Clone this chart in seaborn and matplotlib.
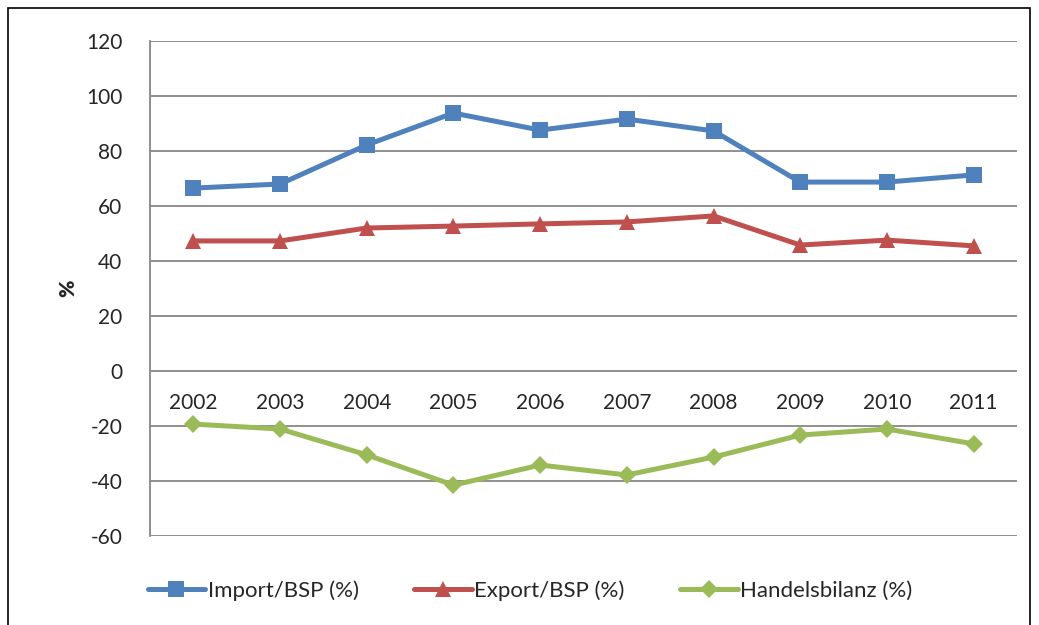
import matplotlib
matplotlib.use("Agg")
import matplotlib.pyplot as plt
import seaborn as sns
import pandas as pd
from matplotlib.patches import Rectangle

years = ["2002", "2003", "2004", "2005", "2006", "2007", "2008", "2009", "2010", "2011"]
import_bsp = [66.5, 68.0, 82.2, 93.8, 87.6, 91.6, 87.3, 68.7, 68.7, 71.3]
export_bsp = [47.3, 47.3, 52.0, 52.7, 53.5, 54.2, 56.4, 45.8, 47.6, 45.5]
handelsbilanz = [-19.3, -21.1, -30.5, -41.5, -34.2, -37.8, -31.3, -23.3, -21.1, -26.5]

series_names = ["Import/BSP (%)", "Export/BSP (%)", "Handelsbilanz (%)"]
colors = ["#4F81BD", "#C0504D", "#9BBB59"]
markers = ["s", "^", "D"]
msizes = [11, 11, 9]

# long-form table for seaborn
rows = []
for name, vals in zip(series_names, [import_bsp, export_bsp, handelsbilanz]):
    for i, v in enumerate(vals):
        rows.append({"pos": i, "value": v, "series": name})
df = pd.DataFrame(rows)

sns.set_style("white")
plt.rcParams['font.family'] = ['Lato', 'DejaVu Sans']
plt.rcParams['axes.unicode_minus'] = False

fig = plt.figure(figsize=(10.39, 6.25), dpi=100)
ax = fig.add_axes([0.1444, 0.1424, 0.8344, 0.792])

for name, c, m, ms in zip(series_names, colors, markers, msizes):
    sns.lineplot(data=df[df["series"] == name], x="pos", y="value", ax=ax,
                 color=c, marker=m, markersize=ms, linewidth=3.6,
                 markeredgewidth=0, label=name)

ax.set_xlim(-0.5, len(years) - 0.5)
ax.set_ylim(-60, 120)
ax.set_yticks(range(-60, 121, 20))
ax.yaxis.grid(True, color="#878787", linewidth=1.3)
ax.set_axisbelow(True)

# category axis crosses at zero
ax.spines['bottom'].set_position(('data', 0))
ax.spines['bottom'].set_visible(False)
ax.set_xticks(range(len(years)))
ax.set_xticklabels(years)
ax.tick_params(axis='x', length=0, pad=16, labelsize=15)
ax.tick_params(axis='y', length=0, pad=20, labelsize=15)
for s in ['top', 'right']:
    ax.spines[s].set_visible(False)
ax.spines['left'].set_color("#878787")
ax.spines['left'].set_linewidth(1.3)

ax.set_xlabel("")
ax.set_ylabel("%", fontsize=15, fontweight="heavy", labelpad=6)

ax.get_legend().remove()
handles, labels = ax.get_legend_handles_labels()
fig.legend(handles, labels, loc="center", bbox_to_anchor=(0.51, 0.055), ncol=3,
           frameon=False, fontsize=16, handlelength=2.6, handletextpad=0.1,
           columnspacing=2.5)

fig.patches.append(Rectangle((8 / 1039, -0.01), 1022 / 1039, 1.01 - 8 / 625,
                             transform=fig.transFigure, fill=False,
                             edgecolor="black", linewidth=1.2))

fig.savefig("out.png", dpi=100)
